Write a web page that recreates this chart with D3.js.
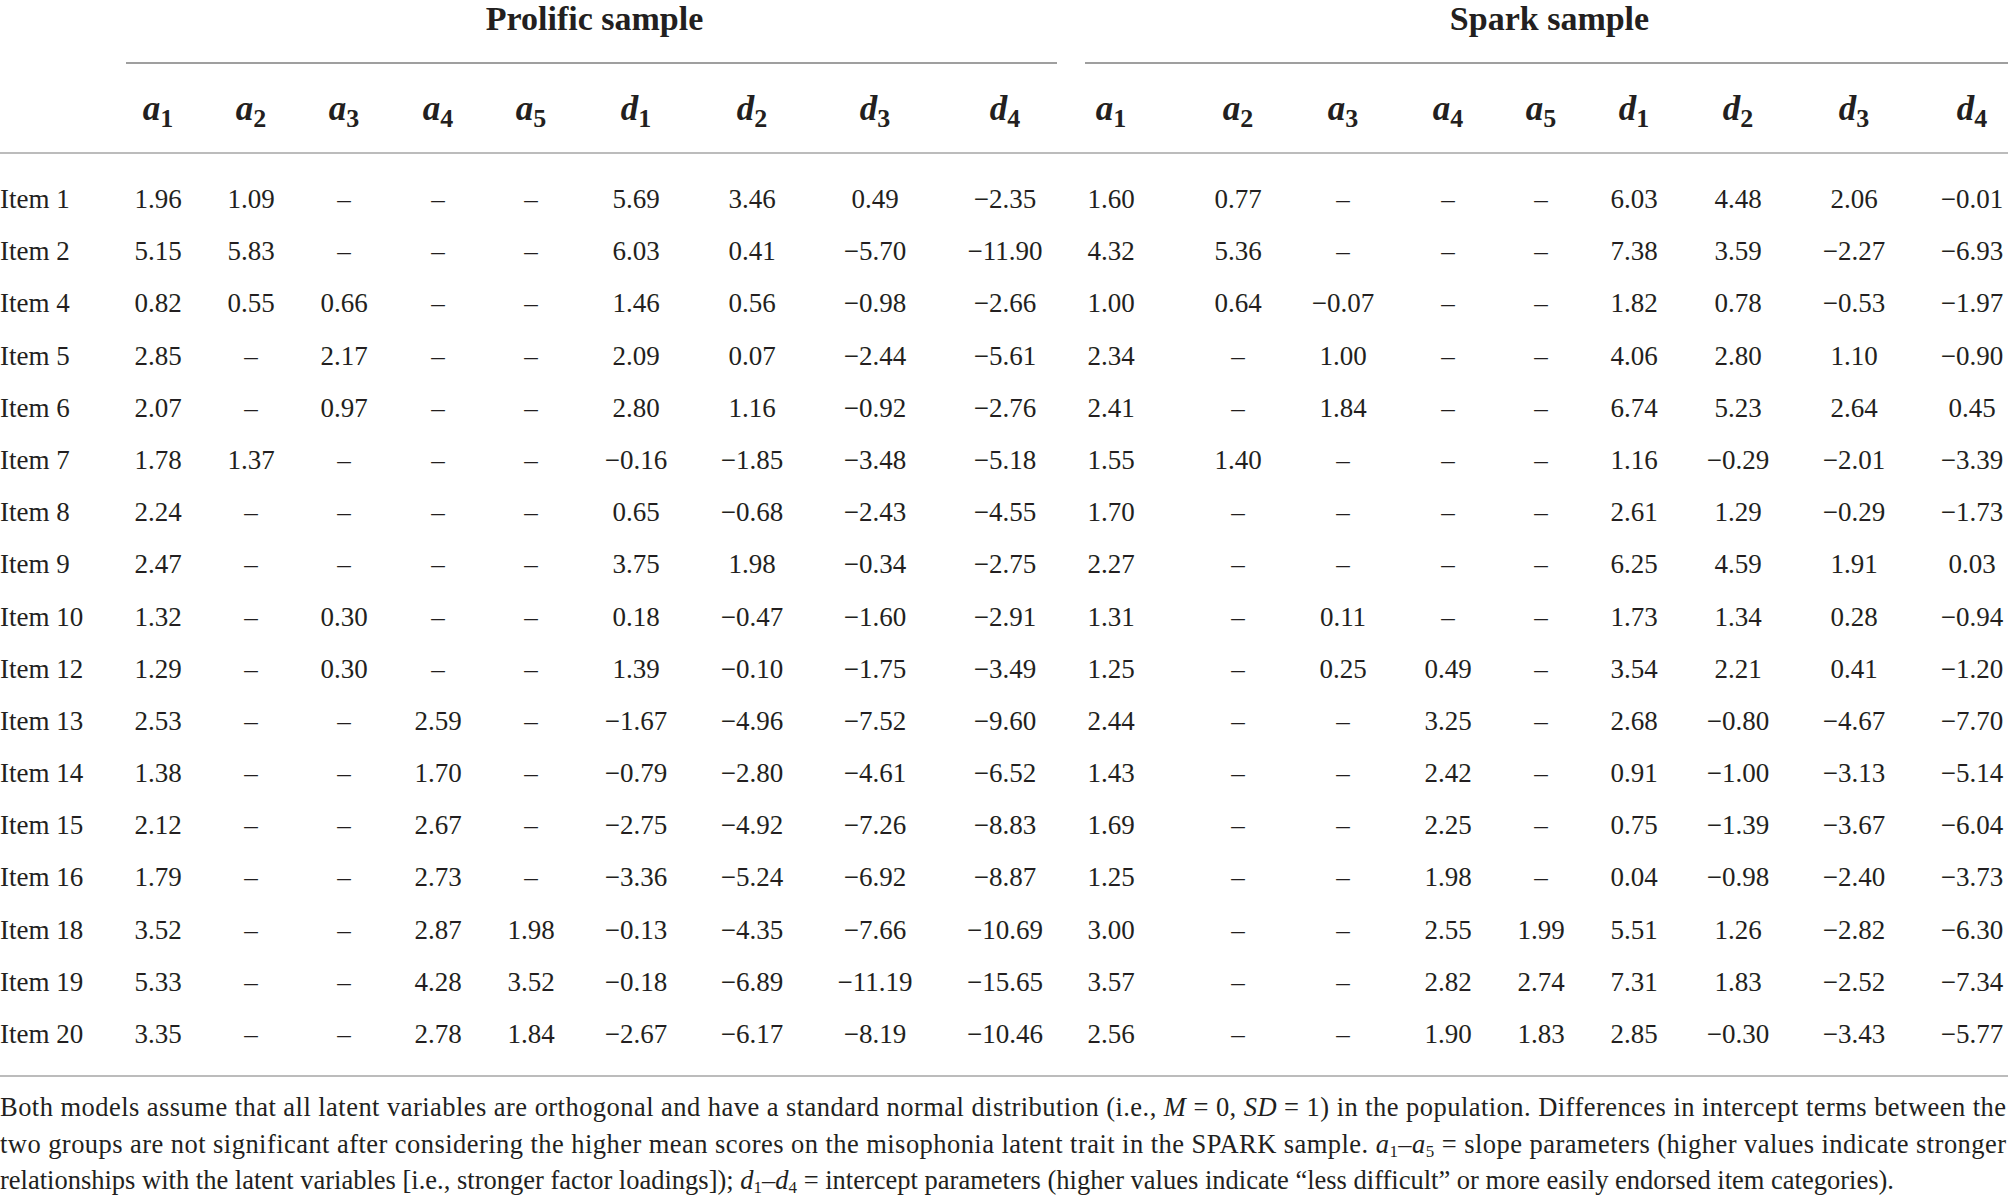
<!DOCTYPE html>
<html>
<head>
<meta charset="utf-8">
<script src="https://cdn.jsdelivr.net/npm/d3@7"></script>
<style>
  html, body { margin: 0; padding: 0; background: #fff; }
  text { font-family: "Liberation Serif", "Times New Roman", serif; fill: #231f20; }
</style>
</head>
<body>
<div id="table"></div>
<script>

const items = ["Item 1", "Item 2", "Item 4", "Item 5", "Item 6", "Item 7", "Item 8", "Item 9", "Item 10",
  "Item 12", "Item 13", "Item 14", "Item 15", "Item 16", "Item 18", "Item 19", "Item 20"]

const paramLetters = ["a", "a", "a", "a", "a", "d", "d", "d", "d"]
const paramIndex = ["1", "2", "3", "4", "5", "1", "2", "3", "4"]

const groups = ["Prolific sample", "Spark sample"]

const prolific = [
  [1.96, 1.09, null, null, null, 5.69, 3.46, 0.49, -2.35],
  [5.15, 5.83, null, null, null, 6.03, 0.41, -5.70, -11.90],
  [0.82, 0.55, 0.66, null, null, 1.46, 0.56, -0.98, -2.66],
  [2.85, null, 2.17, null, null, 2.09, 0.07, -2.44, -5.61],
  [2.07, null, 0.97, null, null, 2.80, 1.16, -0.92, -2.76],
  [1.78, 1.37, null, null, null, -0.16, -1.85, -3.48, -5.18],
  [2.24, null, null, null, null, 0.65, -0.68, -2.43, -4.55],
  [2.47, null, null, null, null, 3.75, 1.98, -0.34, -2.75],
  [1.32, null, 0.30, null, null, 0.18, -0.47, -1.60, -2.91],
  [1.29, null, 0.30, null, null, 1.39, -0.10, -1.75, -3.49],
  [2.53, null, null, 2.59, null, -1.67, -4.96, -7.52, -9.60],
  [1.38, null, null, 1.70, null, -0.79, -2.80, -4.61, -6.52],
  [2.12, null, null, 2.67, null, -2.75, -4.92, -7.26, -8.83],
  [1.79, null, null, 2.73, null, -3.36, -5.24, -6.92, -8.87],
  [3.52, null, null, 2.87, 1.98, -0.13, -4.35, -7.66, -10.69],
  [5.33, null, null, 4.28, 3.52, -0.18, -6.89, -11.19, -15.65],
  [3.35, null, null, 2.78, 1.84, -2.67, -6.17, -8.19, -10.46]
]

const spark = [
  [1.60, 0.77, null, null, null, 6.03, 4.48, 2.06, -0.01],
  [4.32, 5.36, null, null, null, 7.38, 3.59, -2.27, -6.93],
  [1.00, 0.64, -0.07, null, null, 1.82, 0.78, -0.53, -1.97],
  [2.34, null, 1.00, null, null, 4.06, 2.80, 1.10, -0.90],
  [2.41, null, 1.84, null, null, 6.74, 5.23, 2.64, 0.45],
  [1.55, 1.40, null, null, null, 1.16, -0.29, -2.01, -3.39],
  [1.70, null, null, null, null, 2.61, 1.29, -0.29, -1.73],
  [2.27, null, null, null, null, 6.25, 4.59, 1.91, 0.03],
  [1.31, null, 0.11, null, null, 1.73, 1.34, 0.28, -0.94],
  [1.25, null, 0.25, 0.49, null, 3.54, 2.21, 0.41, -1.20],
  [2.44, null, null, 3.25, null, 2.68, -0.80, -4.67, -7.70],
  [1.43, null, null, 2.42, null, 0.91, -1.00, -3.13, -5.14],
  [1.69, null, null, 2.25, null, 0.75, -1.39, -3.67, -6.04],
  [1.25, null, null, 1.98, null, 0.04, -0.98, -2.40, -3.73],
  [3.00, null, null, 2.55, 1.99, 5.51, 1.26, -2.82, -6.30],
  [3.57, null, null, 2.82, 2.74, 7.31, 1.83, -2.52, -7.34],
  [2.56, null, null, 1.90, 1.83, 2.85, -0.30, -3.43, -5.77]
]

// footnote, split in the same lines as the original; {i:..} = italic, {s:..} = subscript
const footnoteLines = [
  ["Both models assume that all latent variables are orthogonal and have a standard normal distribution (i.e., ",
    {i: "M"}, " = 0, ", {i: "SD"}, " = 1) in the population. Differences in intercept terms between the"],
  ["two groups are not significant after considering the higher mean scores on the misophonia latent trait in the SPARK sample. ",
    {i: "a"}, {s: "1"}, "–", {i: "a"}, {s: "5"}, " = slope parameters (higher values indicate stronger"],
  ["relationships with the latent variables [i.e., stronger factor loadings]); ",
    {i: "d"}, {s: "1"}, "–", {i: "d"}, {s: "4"},
    " = intercept parameters (higher values indicate “less difficult” or more easily endorsed item categories)."]
]

const width = 2008
const height = 1200

const svg = d3.select("#table")
  .append("svg")
    .attr("width", width)
    .attr("height", height)

// column layout: each sample gets its own span, columns are not evenly wide
const groupSpan = [[126, 1057], [1085, 2008]]
const colCenters = [
  [158, 251, 344, 438, 531, 636, 752, 875, 1005],
  [1111, 1238, 1343, 1448, 1541, 1634, 1738, 1854, 1972]
]
const colKeys = paramLetters.map((l, i) => l + paramIndex[i])
const xScales = colCenters.map(c => d3.scaleOrdinal().domain(colKeys).range(c))

// row baselines
const yScale = d3.scalePoint()
  .domain(items)
  .range([208, 1043])

const fmt = d3.format(".2f") // d3 uses the real minus sign "−"

// group titles and the rules under them
groups.forEach((g, gi) => {
  const [x0, x1] = groupSpan[gi]
  svg.append("text")
    .attr("x", (x0 + x1) / 2 + 3)
    .attr("y", 30)
    .attr("text-anchor", "middle")
    .attr("font-size", 34)
    .attr("font-weight", "bold")
    .text(g)

  svg.append("line")
    .attr("x1", x0).attr("x2", x1)
    .attr("y1", 63).attr("y2", 63)
    .attr("stroke", "#7f7f7f")
    .attr("stroke-width", 1.6)
})

// column headers
colCenters.forEach((c, gi) => {
  const head = svg.append("g").selectAll("text")
    .data(colKeys)
    .join("text")
      .attr("x", d => xScales[gi](d))
      .attr("y", 120)
      .attr("text-anchor", "middle")
      .attr("font-weight", "bold")

  head.append("tspan")
    .attr("font-size", 35)
    .attr("font-style", "italic")
    .text((d, i) => paramLetters[i])

  head.append("tspan")
    .attr("font-size", 26)
    .attr("dy", 7)
    .text((d, i) => paramIndex[i])
})

// rules under the header and at the bottom of the body
;[153, 1076].forEach(y => {
  svg.append("line")
    .attr("x1", 0).attr("x2", width)
    .attr("y1", y).attr("y2", y)
    .attr("stroke", "#a6a6a6")
    .attr("stroke-width", 1.6)
})

// row labels
svg.append("g").selectAll("text")
  .data(items)
  .join("text")
    .attr("x", 0)
    .attr("y", d => yScale(d))
    .attr("font-size", 27)
    .text(d => d)

// cells
;[prolific, spark].forEach((rows, gi) => {
  const cells = rows.flatMap((row, ri) => row.map((v, ci) => ({item: items[ri], key: colKeys[ci], v})))
  svg.append("g").selectAll("text")
    .data(cells)
    .join("text")
      .attr("x", d => xScales[gi](d.key))
      .attr("y", d => yScale(d.item))
      .attr("text-anchor", "middle")
      .attr("font-size", 27)
      .text(d => d.v === null ? "–" : fmt(d.v))
})

// footnote
const footY = d3.scalePoint()
  .domain(d3.range(footnoteLines.length))
  .range([1116, 1189])

footnoteLines.forEach((parts, li) => {
  const t = svg.append("text")
    .attr("x", 0)
    .attr("y", footY(li))
    .attr("font-size", 26.5)

  if (li < footnoteLines.length - 1) {
    t.attr("textLength", width - 2).attr("lengthAdjust", "spacing")
  }

  let shifted = false
  parts.forEach(p => {
    const span = t.append("tspan")
    if (typeof p === "string") {
      span.text(p)
      if (shifted) { span.attr("dy", -4); shifted = false }
    } else if (p.i) {
      span.attr("font-style", "italic").text(p.i)
      if (shifted) { span.attr("dy", -4); shifted = false }
    } else if (p.s) {
      span.attr("font-size", 17).attr("dy", 4).text(p.s)
      shifted = true
    }
  })
})

</script>
</body>
</html>
